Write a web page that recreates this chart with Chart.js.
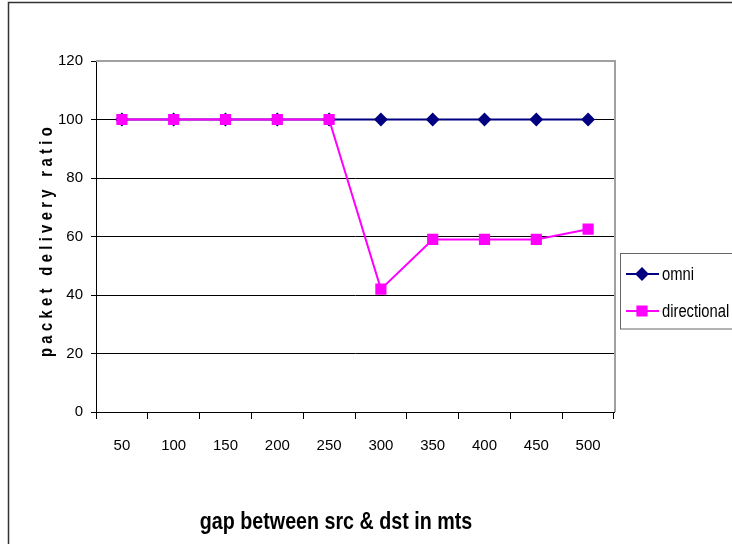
<!DOCTYPE html>
<html>
<head>
<meta charset="utf-8">
<script src="https://cdn.jsdelivr.net/npm/chart.js@4"></script>
<style>
html, body { margin: 0; padding: 0; background: #fff; }
</style>
</head>
<body>
<canvas id="myChart" width="732" height="544"></canvas>
<script>
const categories = ['50', '100', '150', '200', '250', '300', '350', '400', '450', '500'];
const omniValues = [100, 100, 100, 100, 100, 100, 100, 100, 100, 100];
const directionalValues = [100, 100, 100, 100, 100, 42, 59, 59, 59, 62.5];
const seriesNames = ['omni', 'directional'];
const yMin = 0, yMax = 120, yStep = 20;
const xTitle = 'gap between src & dst in mts';
const yTitle = 'packet delivery ratio';

const FONT = '"Liberation Sans", Arial, sans-serif';
const NARROW = 0.82; // squeeze to look like Arial Narrow

const ctx = document.getElementById('myChart');

function narrowText(c, text, x, y) {
    c.save();
    c.translate(x, y);
    c.scale(NARROW, 1);
    c.fillText(text, 0, 0);
    c.restore();
}

// frame, plot borders, axis titles and the boxed legend
const decor = {
    id: 'decor',
    afterDraw(chart) {
        const c = chart.ctx;
        const a = chart.chartArea;
        c.save();

        c.strokeStyle = '#333';
        c.lineWidth = 1.5;
        c.beginPath();
        c.moveTo(8.5, 544);
        c.lineTo(8.5, 2.5);
        c.lineTo(732, 2.5);
        c.stroke();

        c.strokeStyle = '#a0a0a0';
        c.lineWidth = 2;
        c.beginPath();
        c.moveTo(a.left, a.top);
        c.lineTo(a.right + 1, a.top);
        c.lineTo(a.right + 1, a.bottom);
        c.stroke();

        c.fillStyle = '#000';
        c.textAlign = 'center';
        c.textBaseline = 'middle';
        c.font = 'bold 24px ' + FONT;
        narrowText(c, xTitle, 336, 522);

        c.save();
        c.translate(47, 240);
        c.rotate(-Math.PI / 2);
        c.font = 'bold 18px ' + FONT;
        c.letterSpacing = '5.3px';
        narrowText(c, yTitle, 0, 0);
        c.restore();

        c.strokeStyle = '#666';
        c.lineWidth = 1;
        c.strokeRect(620.5, 253.5, 130, 75.5);

        const rows = [274, 311];
        chart.data.datasets.forEach(function(ds, i) {
            const y = rows[i];
            c.strokeStyle = ds.borderColor;
            c.lineWidth = 2;
            c.beginPath();
            c.moveTo(626, y);
            c.lineTo(659, y);
            c.stroke();
            c.fillStyle = ds.pointBackgroundColor;
            c.strokeStyle = ds.borderColor;
            Chart.helpers.drawPoint(c, {pointStyle: ds.pointStyle, radius: ds.pointRadius, rotation: 0, borderWidth: 1}, 642, y);
            c.fillStyle = '#000';
            c.textAlign = 'left';
            c.textBaseline = 'middle';
            c.font = '18px ' + FONT;
            narrowText(c, ds.label, 662, y + 1);
        });
        c.restore();
    }
};

new Chart(ctx, {
    type: 'line',
    data: {
        labels: categories,
        datasets: [{
            label: seriesNames[0],
            data: omniValues,
            borderColor: '#000080',
            backgroundColor: '#000080',
            pointBackgroundColor: '#000080',
            pointBorderColor: '#000080',
            pointStyle: 'rectRot',
            pointRadius: 5.5,
            borderWidth: 2,
            order: 1
        }, {
            label: seriesNames[1],
            data: directionalValues,
            borderColor: '#ff00ff',
            backgroundColor: '#ff00ff',
            pointBackgroundColor: '#ff00ff',
            pointBorderColor: '#ff00ff',
            pointStyle: 'rect',
            pointRadius: 6.5,
            borderWidth: 2,
            order: 0
        }]
    },
    options: {
        responsive: false,
        animation: false,
        layout: { padding: { left: 0, top: 61, right: 118, bottom: 0 } },
        plugins: {
            legend: { display: false },
            tooltip: { enabled: false }
        },
        scales: {
            x: {
                offset: true,
                grid: { offset: true, drawOnChartArea: false, color: '#000', tickLength: 7 },
                border: { color: '#000', width: 1 },
                ticks: { color: '#000', padding: 18, maxRotation: 0, font: { family: FONT, size: 15 } },
                afterFit: function(scale) { scale.height = 132; }
            },
            y: {
                min: yMin,
                max: yMax,
                ticks: { stepSize: yStep, color: '#000', padding: 8, font: { family: FONT, size: 15 } },
                grid: {
                    color: function(c) { return c.tick && c.tick.value === yMax ? 'rgba(0,0,0,0)' : '#000'; },
                    tickColor: '#000',
                    tickLength: 5
                },
                border: { color: '#000', width: 1 },
                afterFit: function(scale) { scale.width = 96; }
            }
        }
    },
    plugins: [decor]
});
</script>
</body>
</html>
